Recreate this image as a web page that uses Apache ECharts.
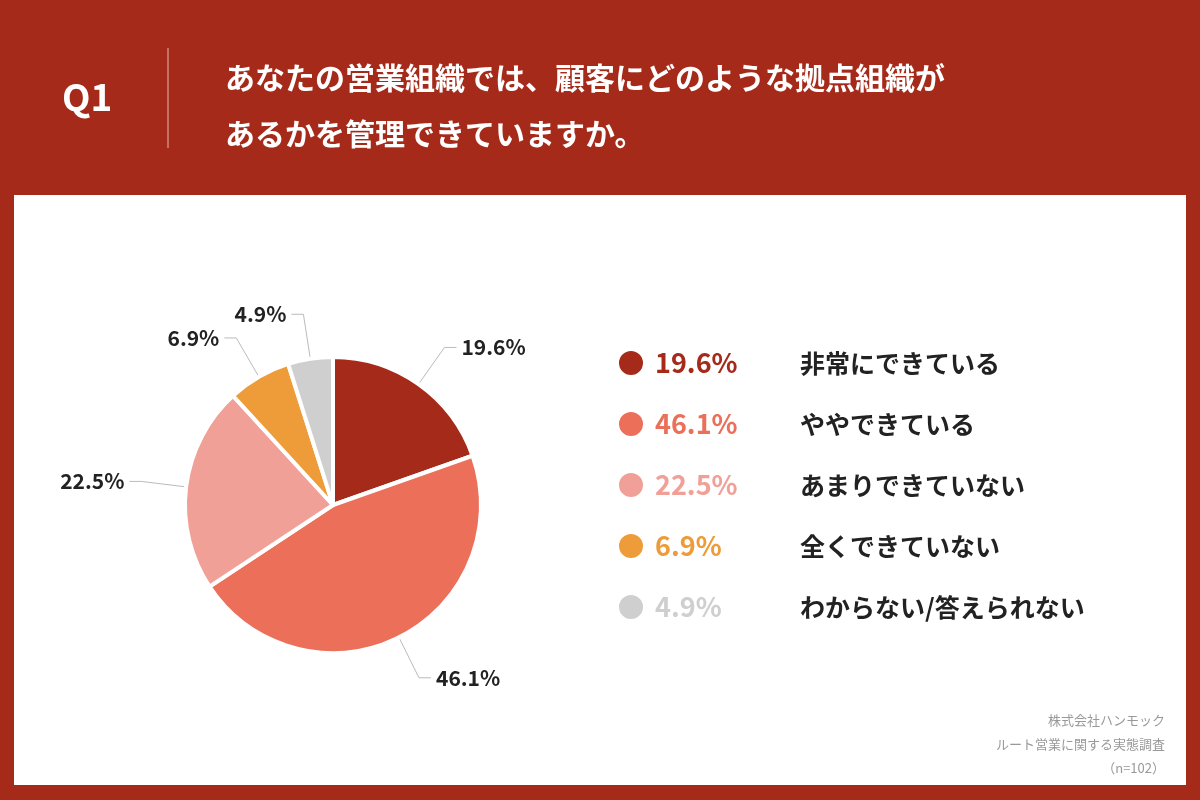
<!DOCTYPE html>
<html>
<head>
<meta charset="utf-8">
<title>Q1</title>
<style>
* { margin: 0; padding: 0; }
body { background: #a52a1a; }
#chart { width: 1200px; height: 800px; }
</style>
</head>
<body>
<div id="chart"></div>
<script src="https://cdn.jsdelivr.net/npm/echarts@6/dist/echarts.min.js"></script>
<script>
var categories = ['非常にできている', 'ややできている', 'あまりできていない', '全くできていない', 'わからない/答えられない'];
var values = [19.6, 46.1, 22.5, 6.9, 4.9];
var colors = ['#a52a1a', '#ec6f5a', '#f0a097', '#ee9c3a', '#cfcfcf'];

var font = '"Noto Sans CJK JP", "Noto Sans", sans-serif';
var chart = echarts.init(document.getElementById('chart'));

var rich = {};
colors.forEach(function (c, i) {
    rich['p' + i] = { color: c, fontSize: 27, fontWeight: 'bold', width: 145, fontFamily: font };
});
rich.n = { color: '#222', fontSize: 25, fontWeight: 'bold', fontFamily: font };

var option = {
    animation: false,
    backgroundColor: '#a52a1a',
    color: colors,
    graphic: [
        { type: 'rect', shape: { x: 14, y: 195, width: 1172, height: 590 }, style: { fill: '#fff' }, z: -10 },
        { type: 'text', left: 62, top: 78, style: { text: 'Q1', fill: '#fff', font: 'bold 37px ' + font } },
        { type: 'line', shape: { x1: 168, y1: 48, x2: 168, y2: 148 }, style: { stroke: '#e6b7ae', lineWidth: 1 } },
        { type: 'text', left: 225, top: 50, style: { text: 'あなたの営業組織では、顧客にどのような拠点組織が\nあるかを管理できていますか。', fill: '#fff', font: 'bold 30px ' + font, lineHeight: 56 } },
        { type: 'text', x: 1165, y: 708, style: { text: '株式会社ハンモック\nルート営業に関する実態調査\n（n=102）', fill: '#999', font: '13px ' + font, lineHeight: 24, textAlign: 'right' } }
    ],
    legend: {
        orient: 'vertical',
        left: 612,
        top: 344,
        icon: 'circle',
        itemWidth: 26,
        itemHeight: 26,
        itemGap: 33,
        data: categories,
        formatter: function (name) {
            var i = categories.indexOf(name);
            return '{p' + i + '|' + values[i] + '%}{n|' + name + '}';
        },
        textStyle: { rich: rich, padding: [0, 0, 0, 6] }
    },
    series: [{
        type: 'pie',
        center: [333, 505],
        radius: [0, 148],
        startAngle: 90,
        clockwise: true,
        itemStyle: { borderColor: '#fff', borderWidth: 4 },
        label: {
            formatter: '{c}%',
            color: '#222',
            fontSize: 21,
            fontWeight: 'bold',
            fontFamily: font
        },
        labelLine: { length: 45, length2: 12, lineStyle: { color: '#bbb', width: 1 } },
        data: categories.map(function (c, i) { return { name: c, value: values[i] }; })
    }]
};
chart.setOption(option);
</script>
</body>
</html>
